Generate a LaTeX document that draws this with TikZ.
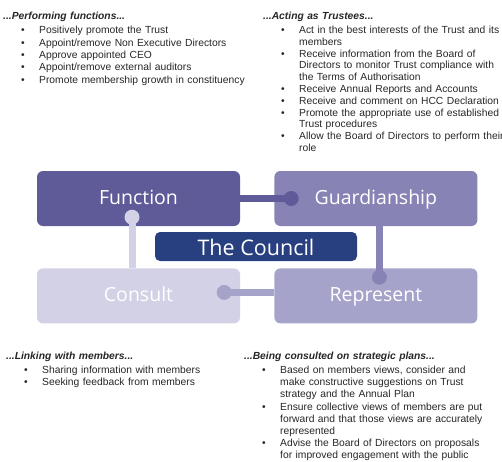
\documentclass[tikz,border=0pt]{standalone}
\usepackage{fontspec}
\setmainfont{Liberation Sans}
\newfontfamily\rolefont{Open Sans}
\usetikzlibrary{positioning}

\definecolor{funcpurple}{HTML}{5F5B99}
\definecolor{guardpurple}{HTML}{8783B5}
\definecolor{councilblue}{HTML}{283F80}
\definecolor{consultlilac}{HTML}{D3D1E5}
\definecolor{reppurple}{HTML}{A6A3CB}

\newcommand\listhead[1]{\noindent\textbf{\textit{#1}}\par\vspace{2.5pt}}
\newcommand\listitem[1]{\noindent\hangindent=36pt\hangafter=1\hspace*{18pt}\makebox[18pt][l]{\textbullet}#1\par}

\tikzset{
  role/.style={rounded corners=6pt, minimum width=203pt, minimum height=55pt, text height=14pt, text depth=3pt, text=white, font=\rolefont\fontsize{19.5}{22}\selectfont},
  duties/.style={anchor=north west, inner sep=0pt, text width=260pt, align=left, text=black!85, font=\fontsize{10.3}{12.1}\selectfont},
  link/.style={line width=7pt},
  knob/.style={circle, fill=#1, minimum size=15pt, inner sep=0pt},
}

\begin{document}
\begin{tikzpicture}[x=1pt, y=-1pt]
    \useasboundingbox (0,0) rectangle (502,461);
    % the four roles and the council
    \node[role, fill=funcpurple] (func) at (138.5,198.5) {Function};
    \node[role, fill=guardpurple, right=34pt of func] (guard) {Guardianship};
    \node[role, fill=consultlilac, below=42pt of func] (cons) {Consult};
    \node[role, fill=reppurple, below=42pt of guard] (rep) {Represent};
    \node[role, fill=councilblue, minimum width=202pt, minimum height=29pt, inner sep=1pt, text height=17pt, text depth=0pt, rounded corners=5pt, font=\rolefont\fontsize{21.5}{24}\selectfont] (council) at (256,246.5) {The Council};
    % links between the roles
    \draw[link, funcpurple] (func.east) -- ([xshift=17pt]guard.west) node[knob=funcpurple] (fgknob) {};
    \draw[link, consultlilac] ([xshift=-6.5pt]cons.north) -- ([xshift=-6.5pt, yshift=9pt]func.south) node[knob=consultlilac] (fcknob) {};
    \draw[link, guardpurple] ([xshift=3.5pt]guard.south) -- ([xshift=3.5pt, yshift=-9pt]rep.north) node[knob=guardpurple] (grknob) {};
    \draw[link, reppurple] ([yshift=3.5pt]rep.west) -- ([xshift=-16pt, yshift=3.5pt]cons.east) node[knob=reppurple] (rcknob) {};
    % what each role means
    \node[duties, font=\fontsize{10.3}{12.3}\selectfont] (perform) at (3,11.5) {\listhead{...Performing functions...}
        \listitem{Positively promote the Trust}
        \listitem{Appoint/remove Non Executive Directors}
        \listitem{Approve appointed CEO}
        \listitem{Appoint/remove external auditors}
        \listitem{Promote membership growth in constituency}};
    \node[duties, font=\fontsize{10.3}{11.8}\selectfont] (trustee) at (263,11.5) {\listhead{...Acting as Trustees...}
        \listitem{Act in the best interests of the Trust and its\newline members}
        \listitem{Receive information from the Board of\newline Directors to monitor Trust compliance with\newline the Terms of Authorisation}
        \listitem{Receive Annual Reports and Accounts}
        \listitem{Receive and comment on HCC Declaration}
        \listitem{Promote the appropriate use of established\newline Trust procedures}
        \listitem{Allow the Board of Directors to perform their\newline role}};
    \node[duties] (linking) at (6,351.5) {\listhead{...Linking with members...}
        \listitem{Sharing information with members}
        \listitem{Seeking feedback from members}};
    \node[duties] (consulted) at (244,351.5) {\listhead{...Being consulted on strategic plans...}
        \listitem{Based on members views, consider and\newline make constructive suggestions on Trust\newline strategy and the Annual Plan}
        \listitem{Ensure collective views of members are put\newline forward and that those views are accurately\newline represented}
        \listitem{Advise the Board of Directors on proposals\newline for improved engagement with the public}};
\end{tikzpicture}
\end{document}
